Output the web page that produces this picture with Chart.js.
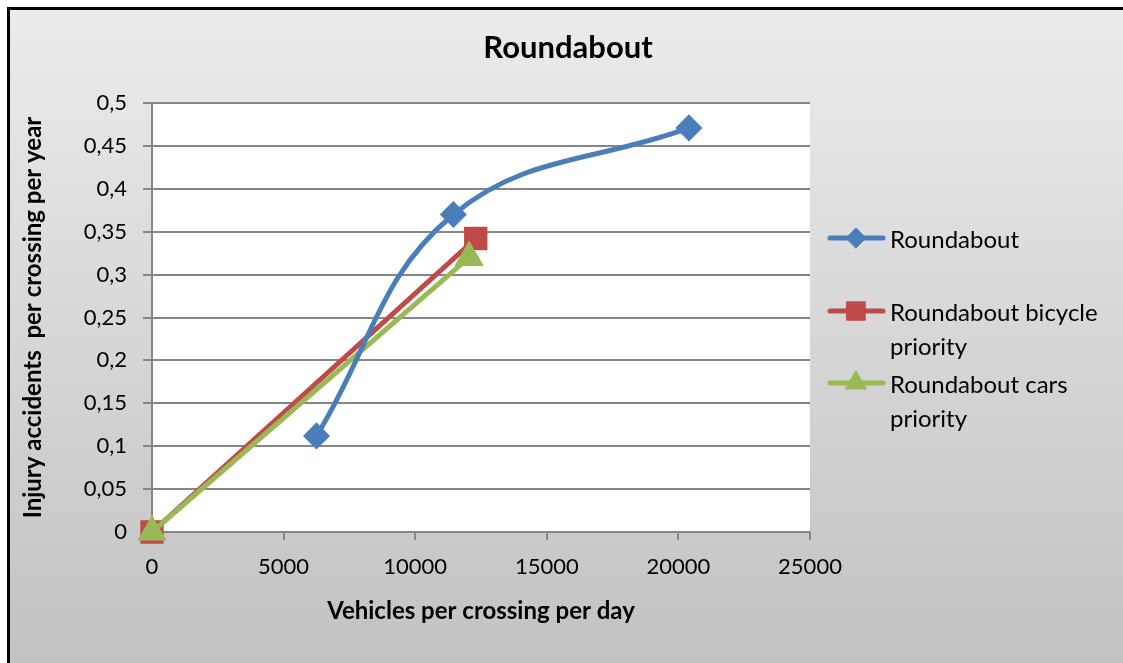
<!DOCTYPE html>
<html>
<head>
<meta charset="utf-8">
<script src="https://cdn.jsdelivr.net/npm/chart.js@4.4.0/dist/chart.umd.min.js"></script>
<style>
  body { margin: 0; background: #fff; }
  canvas { display: block; }
</style>
</head>
<body>
<canvas id="roundaboutChart" width="1123" height="663"></canvas>
<script>
// ---data---
var chartTitle = "Roundabout";
var seriesNames = ["Roundabout", "Roundabout bicycle priority", "Roundabout cars priority"];
var legendLines = [["Roundabout"], ["Roundabout bicycle", "priority"], ["Roundabout cars", "priority"]];
var roundaboutX = [6250, 11450, 20400];
var roundaboutY = [0.112, 0.37, 0.471];
var bicycleX = [0, 12300];
var bicycleY = [0, 0.342];
var carsX = [0, 12050];
var carsY = [0, 0.32];
var xTicks = [0, 5000, 10000, 15000, 20000, 25000];
var yTicks = [0, 0.05, 0.1, 0.15, 0.2, 0.25, 0.3, 0.35, 0.4, 0.45, 0.5];

function toPoints(xs, ys) {
  return xs.map(function (x, i) { return { x: x, y: ys[i] }; });
}

// ---background, frame and plot area---
var chartBackground = {
  id: "chartBackground",
  beforeDraw: function (chart) {
    var ctx = chart.ctx;
    var a = chart.chartArea;
    var g = ctx.createLinearGradient(0, 0, 0, chart.height);
    g.addColorStop(0, "#ececec");
    g.addColorStop(1, "#c2c2c2");
    ctx.save();
    ctx.fillStyle = "#fff";
    ctx.fillRect(0, 0, chart.width, chart.height);
    ctx.fillStyle = g;
    ctx.fillRect(8, 8, chart.width - 8, chart.height - 8);
    ctx.strokeStyle = "#000";
    ctx.lineWidth = 3;
    ctx.beginPath();
    ctx.moveTo(8.5, chart.height);
    ctx.lineTo(8.5, 8.5);
    ctx.lineTo(chart.width, 8.5);
    ctx.stroke();
    ctx.fillStyle = "#fff";
    ctx.fillRect(a.left, a.top, a.right - a.left, a.bottom - a.top);
    ctx.restore();
  }
};

// ---title and legend---
var titleAndLegend = {
  id: "titleAndLegend",
  afterDraw: function (chart) {
    var ctx = chart.ctx;
    var legendY = [238, 311, 383];
    ctx.save();
    ctx.fillStyle = "#000";
    ctx.textAlign = "center";
    ctx.textBaseline = "middle";
    ctx.font = "bold 31px Lato, 'Open Sans', sans-serif";
    ctx.fillText(chartTitle, 568, 48);

    chart.data.datasets.forEach(function (ds, i) {
      var y = legendY[i];
      ctx.strokeStyle = ds.borderColor;
      ctx.lineWidth = ds.borderWidth;
      ctx.lineCap = "round";
      ctx.beginPath();
      ctx.moveTo(830, y);
      ctx.lineTo(883, y);
      ctx.stroke();
      ctx.fillStyle = ds.backgroundColor;
      ctx.strokeStyle = ds.borderColor;
      ctx.lineWidth = 1;
      Chart.helpers.drawPoint(ctx, {
        pointStyle: ds.pointStyle,
        radius: ds.pointRadius,
        borderWidth: 1,
        rotation: 0
      }, 856, y);

      ctx.fillStyle = "#000";
      ctx.textAlign = "left";
      ctx.font = "24px Lato, 'Open Sans', sans-serif";
      legendLines[i].forEach(function (line, k) {
        ctx.fillText(line, 890, y + 2 + k * 34);
      });
    });
    ctx.restore();
  }
};

Chart.defaults.font.family = "Lato, 'Open Sans', sans-serif";
Chart.defaults.color = "#000";

var ctxR = document.getElementById("roundaboutChart").getContext("2d");
var roundaboutChart = new Chart(ctxR, {
  type: "scatter",
  data: {
    datasets: [
      {
        label: seriesNames[0],
        data: toPoints(roundaboutX, roundaboutY),
        showLine: true,
        borderColor: "#4a7ebb",
        backgroundColor: "#4a7ebb",
        borderWidth: 5,
        pointStyle: "rectRot",
        pointRadius: 10,
        tension: 0.4,
        clip: false,
        order: 0
      },
      {
        label: seriesNames[1],
        data: toPoints(bicycleX, bicycleY),
        showLine: true,
        borderColor: "#be4b48",
        backgroundColor: "#be4b48",
        borderWidth: 5,
        pointStyle: "rect",
        pointRadius: 13,
        clip: false,
        order: 2
      },
      {
        label: seriesNames[2],
        data: toPoints(carsX, carsY),
        showLine: true,
        borderColor: "#98b954",
        backgroundColor: "#98b954",
        borderWidth: 5,
        pointStyle: "triangle",
        pointRadius: 12,
        clip: false,
        order: 1
      }
    ]
  },
  options: {
    responsive: false,
    animation: false,
    layout: { padding: { top: 103, right: 313, bottom: 0, left: 0 } },
    plugins: {
      legend: { display: false },
      title: { display: false },
      tooltip: { enabled: false }
    },
    scales: {
      x: {
        type: "linear",
        min: 0,
        max: 25000,
        afterBuildTicks: function (s) { s.ticks = xTicks.map(function (v) { return { value: v }; }); },
        afterFit: function (s) { s.height = 131; },
        ticks: {
          font: { size: 22 },
          padding: 14,
          maxRotation: 0,
          autoSkip: false,
          callback: function (v) { return String(v); }
        },
        grid: { drawOnChartArea: false, drawTicks: true, tickLength: 8, color: "#868686", lineWidth: 2 },
        border: { color: "#868686", width: 2 },
        title: {
          display: true,
          text: "Vehicles per crossing per day",
          font: { size: 24, weight: "bold" },
          padding: { top: 0, bottom: 37 }
        }
      },
      y: {
        min: 0,
        max: 0.5,
        afterBuildTicks: function (s) { s.ticks = yTicks.map(function (v) { return { value: v }; }); },
        afterFit: function (s) { s.width = 152; },
        ticks: {
          font: { size: 22 },
          padding: 16,
          callback: function (v) { return String(parseFloat(v.toFixed(2))).replace(".", ","); }
        },
        grid: { color: "#868686", lineWidth: 2, tickLength: 9 },
        border: { color: "#868686", width: 2 },
        title: {
          display: true,
          text: "Injury accidents  per crossing per year",
          font: { size: 24, weight: "bold" },
          padding: { top: 19, bottom: 0 }
        }
      }
    }
  },
  plugins: [chartBackground, titleAndLegend]
});
</script>
</body>
</html>
